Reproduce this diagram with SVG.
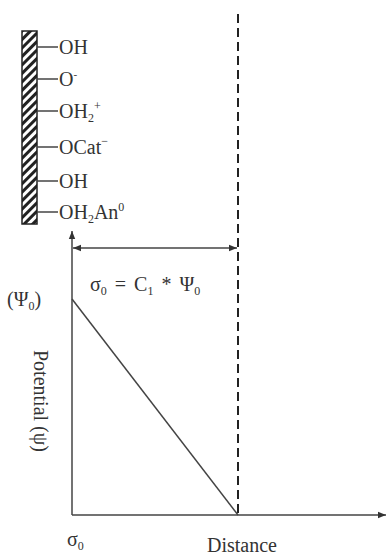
<svg xmlns="http://www.w3.org/2000/svg" width="387" height="557" viewBox="0 0 387 557">
<defs>
<pattern id="hatch" patternUnits="userSpaceOnUse" width="6" height="6" patternTransform="rotate(45)">
<rect width="6" height="6" fill="#fff"/>
<rect width="3" height="6" fill="#222"/>
</pattern>
<marker id="arr" viewBox="0 0 10 10" refX="10" refY="5" markerWidth="8" markerHeight="8" orient="auto-start-reverse" markerUnits="userSpaceOnUse">
<path d="M0,1 L10,5 L0,9 z" fill="#333"/>
</marker>
<style>
text{font-family:"Liberation Serif","Times New Roman",serif;fill:#333}
.lbl{font-size:20px}
.ln{stroke:#444;stroke-width:1.5;fill:none}
</style>
</defs>
<rect width="387" height="557" fill="#fff"/>
<g id="surface">
<rect x="22" y="31" width="15" height="193" fill="url(#hatch)" stroke="#222" stroke-width="1.5"/>
<g class="ln">
<line x1="37" y1="47" x2="58" y2="47"/>
<line x1="37" y1="79" x2="58" y2="79"/>
<line x1="37" y1="111" x2="58" y2="111"/>
<line x1="37" y1="147" x2="58" y2="147"/>
<line x1="37" y1="181" x2="58" y2="181"/>
<line x1="37" y1="212" x2="58" y2="212"/>
</g>
<text class="lbl" x="59" y="54">OH</text>
<text class="lbl" x="59" y="86">O<tspan font-size="11" dy="-8">-</tspan></text>
<text class="lbl" x="59" y="118">OH<tspan font-size="12" dy="4">2</tspan><tspan font-size="12" dy="-12">+</tspan></text>
<text class="lbl" x="59" y="154">OCat<tspan font-size="12" dy="-9">−</tspan></text>
<text class="lbl" x="59" y="188">OH</text>
<text class="lbl" x="59" y="219">OH<tspan font-size="12" dy="4">2</tspan><tspan dy="-4">An</tspan><tspan font-size="12" dy="-8">0</tspan></text>
</g>
<g id="connectors">
<line class="ln" x1="72" y1="515" x2="72" y2="231" marker-end="url(#arr)"/>
<line class="ln" x1="72" y1="515" x2="386" y2="515" marker-end="url(#arr)"/>
<line class="ln" x1="73" y1="248" x2="237" y2="248" marker-start="url(#arr)" marker-end="url(#arr)"/>
<line x1="238" y1="14" x2="238" y2="515" stroke="#222" stroke-width="2" stroke-dasharray="9,5"/>
<line class="ln" x1="72" y1="299" x2="238" y2="515"/>
</g>
<g id="labels">
<text class="lbl" x="90" y="291" word-spacing="3">σ<tspan font-size="12" dy="4">0</tspan><tspan dy="-4"> = C</tspan><tspan font-size="12" dy="4">1</tspan><tspan dy="-4"> * Ψ</tspan><tspan font-size="12" dy="4">0</tspan></text>
<text class="lbl" x="7" y="306">(Ψ<tspan font-size="12" dy="4">0</tspan><tspan dy="-4">)</tspan></text>
<text class="lbl" transform="translate(34,350) rotate(90)">Potential (ψ)</text>
<text class="lbl" x="67" y="546">σ<tspan font-size="12" dy="4">0</tspan></text>
<text class="lbl" x="207" y="552">Distance</text>
</g>
</svg>
